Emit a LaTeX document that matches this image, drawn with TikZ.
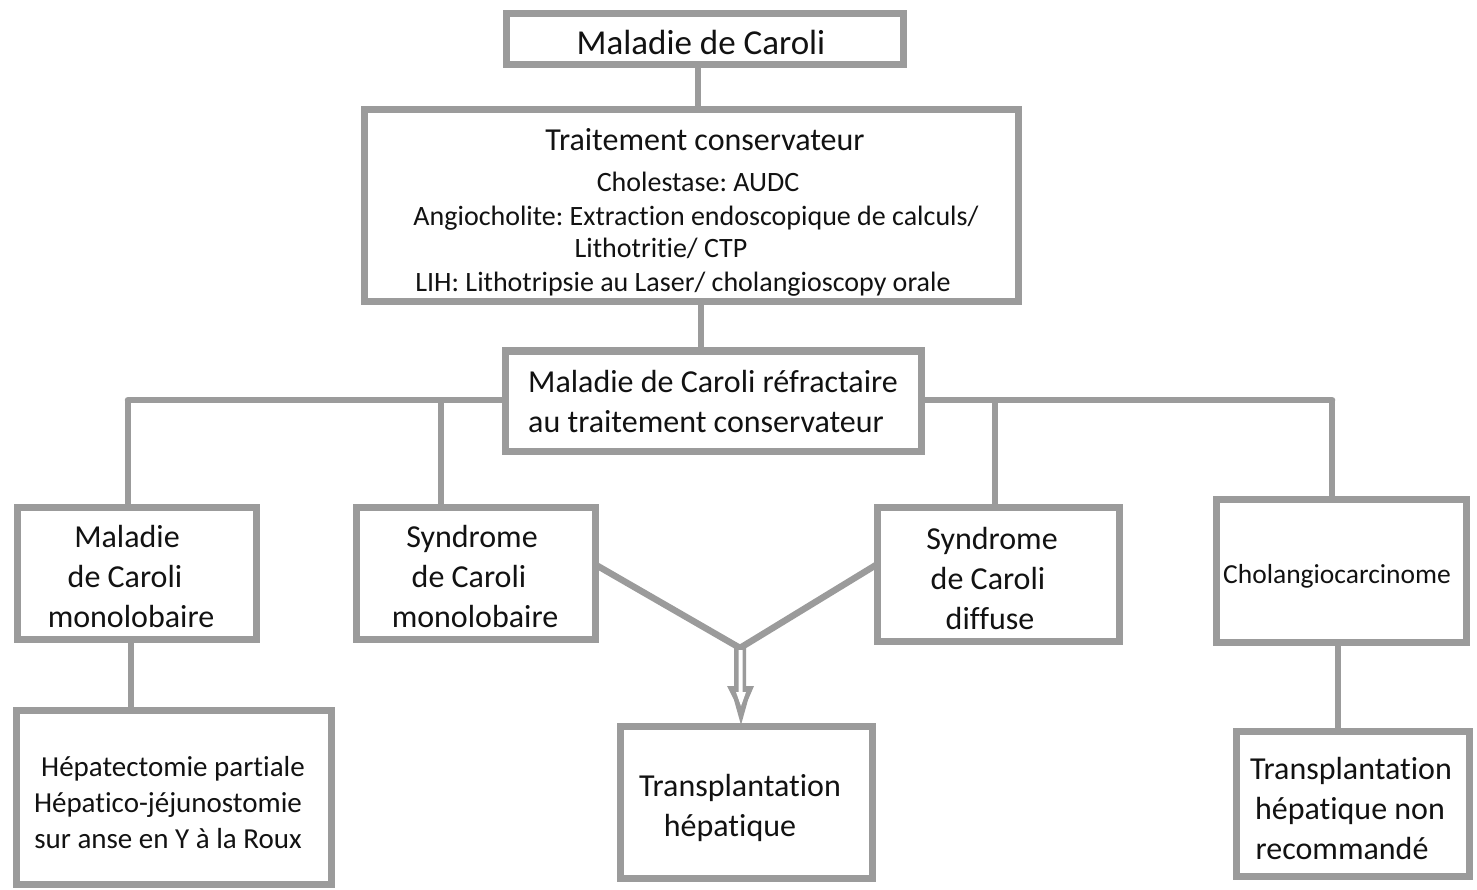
\documentclass[tikz,border=0pt]{standalone}
\usepackage{fontspec}
\setmainfont[Ligatures=NoCommon]{Carlito}
\usetikzlibrary{calc}
\definecolor{framegray}{RGB}{155,155,155}
\definecolor{inkc}{RGB}{18,18,18}
\frenchspacing

\begin{document}
\begin{tikzpicture}[x=1pt,y=-1pt,
  box/.style={draw=framegray, line width=7pt, fill=white, rectangle, inner sep=0pt},
  link/.style={draw=framegray, line width=6.5pt},
  txt/.style={text=inkc, inner sep=0pt, text height=0.66em, text depth=0pt},
  huge/.style={txt, font=\fontsize{35}{42}\selectfont},
  big/.style={txt, font=\fontsize{32}{39}\selectfont},
  mid/.style={txt, font=\fontsize{29}{35}\selectfont},
  small/.style={txt, font=\fontsize{28}{33}\selectfont}]

\useasboundingbox (0,0) rectangle (1477,890);

% junction points of the connectors
\coordinate (trunkA) at (698,0);
\coordinate (trunkB) at (701,0);
\coordinate (barL) at (128,400);
\coordinate (barR) at (1332,400);
\coordinate (dropA) at (441,400);
\coordinate (dropB) at (995,400);
\coordinate (legL) at (131,0);
\coordinate (legR) at (1338,0);
\coordinate (jn) at (740,648);

% connectors (drawn first, boxes cover their ends)
\draw[link] (trunkA |- 0,39) -- (trunkA |- 0,206);
\draw[link] (trunkB |- 0,206) -- (trunkB |- 0,401);
\draw[link, line cap=round] (barL) -- (barR);
\draw[link] (barL) -- (barL |- 0,573);
\draw[link] (dropA) -- (dropA |- 0,573);
\draw[link] (dropB) -- (dropB |- 0,574);
\draw[link] (barR) -- (barR |- 0,570);
\draw[link] (legL |- 0,573) -- (legL |- 0,797);
\draw[link] (legR |- 0,570) -- (legR |- 0,803);
\draw[link, line join=round] (596,565) -- (jn) -- (876,565);

% boxes
\node[box, minimum width=397, minimum height=51] (title) at (704.5,39.5) {};
\node[box, minimum width=654, minimum height=192] (cons) at (691,206) {};
\node[box, minimum width=416, minimum height=100] (refr) at (713,401) {};
\node[box, minimum width=239, minimum height=132] (mono) at (136.5,573) {};
\node[box, minimum width=239, minimum height=132] (synm) at (475.5,573) {};
\node[box, minimum width=242, minimum height=134] (synd) at (998,574) {};
\node[box, minimum width=250, minimum height=143] (chol) at (1341,570.5) {};
\node[box, minimum width=315, minimum height=174] (hepa) at (173.5,797) {};
\node[box, minimum width=252, minimum height=152] (trans) at (746,802) {};
\node[box, minimum width=233, minimum height=145] (nonrec) at (1352.5,803.5) {};

% open double arrow into the transplantation box
\begin{scope}[shift={(jn)}]
  \fill[framegray] (-6,-2) -- (6,-2) -- (6,38) -- (14,38) -- (8,52) -- (1,77) -- (-6,52) -- (-13,38) -- (-6,38) -- cycle;
  \fill[white] (-1.5,2) -- (2.5,2) -- (2.5,44) -- (6,44) -- (1,58) -- (-4,44) -- (-1.5,44) -- cycle;
\end{scope}

% texts
\begin{scope}[shift={(0,7)}]
\node[huge] (t0) at (701,44) {Maladie de Caroli};
\node[big] (t1) at (705,140) {Traitement conservateur};
\node[small] (t2) at (698,181) {Cholestase: AUDC};
\node[small] (t3) at (696,215) {Angiocholite: Extraction endoscopique de calculs/};
\node[small] (t4) at (661,247) {Lithotritie/ CTP};
\node[small] (t5) at (683,281) {LIH: Lithotripsie au Laser/ cholangioscopy orale};

\node[big, anchor=west] (r1) at (528,382) {Maladie de Caroli réfractaire};
\node[big, anchor=west] (r2) at (528,422) {au traitement conservateur};

\node[big] (m1) at (127,537) {Maladie};
\node[big] (m2) at (125,577) {de Caroli};
\node[big] (m3) at (131,617) {monolobaire};

\node[big] (s1) at (472,537) {Syndrome};
\node[big] (s2) at (469,577) {de Caroli};
\node[big] (s3) at (475,617) {monolobaire};

\node[big] (d1) at (992,539) {Syndrome};
\node[big] (d2) at (988,579) {de Caroli};
\node[big] (d3) at (990,619) {diffuse};

\node[txt, font=\fontsize{27.5}{33}\selectfont] (c1) at (1337,573) {Cholangiocarcinome};

\node[mid] (h1) at (173,766) {Hépatectomie partiale};
\node[mid] (h2) at (168,802) {Hépatico-jéjunostomie};
\node[mid] (h3) at (168,838) {sur anse en Y à la Roux};

\node[big] (p1) at (740,786) {Transplantation};
\node[big] (p2) at (730,826) {hépatique};

\node[big] (n1) at (1351,769) {Transplantation};
\node[big] (n2) at (1350,809) {hépatique non};
\node[big] (n3) at (1342,849) {recommandé};
\end{scope}
\end{tikzpicture}
\end{document}
